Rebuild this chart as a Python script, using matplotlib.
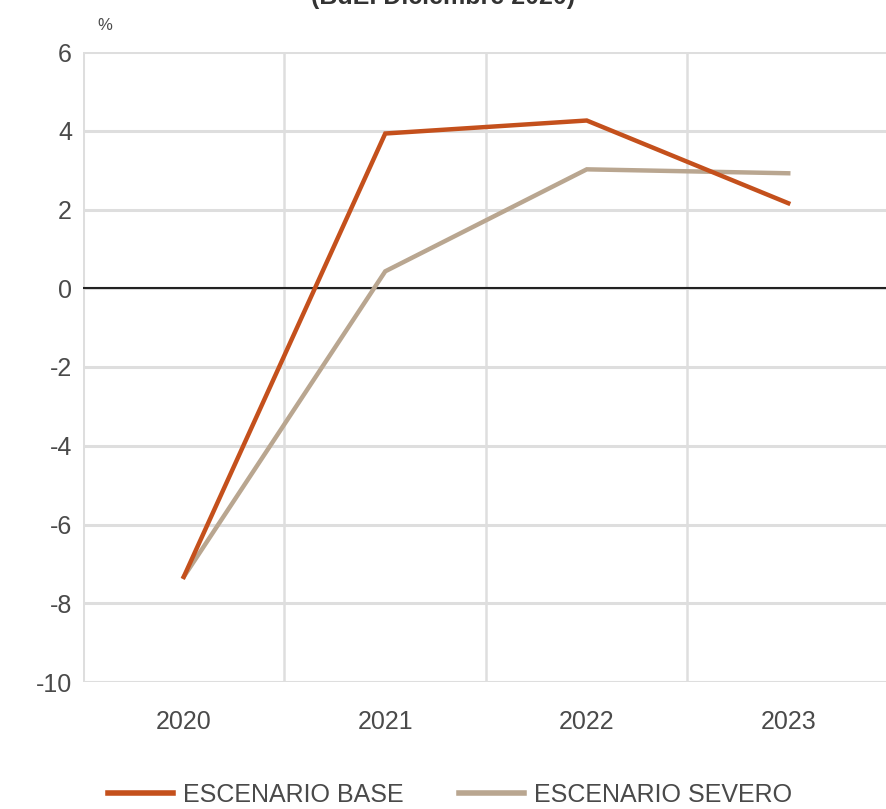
import matplotlib.pyplot as plt
from matplotlib.lines import Line2D

plt.rcParams["font.family"] = ["Liberation Sans Narrow", "Liberation Sans", "DejaVu Sans"]

years = ["2020", "2021", "2022", "2023"]
base = [-7.33, 3.93, 4.26, 2.16]
severo = [-7.33, 0.43, 3.02, 2.92]
yticks = [6, 4, 2, 0, -2, -4, -6, -8, -10]

base_color = "#c4501c"
severo_color = "#b9a690"
grid_color = "#dedede"
text_color = "#4a4a4a"

fig = plt.figure(figsize=(8.87, 8.09), dpi=100)
ax = fig.add_axes([83 / 887, 1 - 682 / 809, 806 / 887, 630 / 809])

x = range(len(years))
ax.plot(x, base, color=base_color, lw=3.2, solid_joinstyle="miter", zorder=4)
ax.plot(x, severo, color=severo_color, lw=3.2, solid_joinstyle="miter", zorder=3)
ax.axhline(0, color="#222222", lw=1.5, zorder=2)

ax.set_xlim(-0.5, 3.5)
ax.set_ylim(-10, 6)
ax.set_yticks(yticks)
ax.set_yticklabels([str(v) for v in yticks])
ax.set_xticks(list(x))
ax.set_xticklabels(years)

# grid: vertical separators between years, horizontal at every tick
for xv in [0.5, 1.5, 2.5]:
    ax.axvline(xv, color=grid_color, lw=1.8, zorder=1)
ax.yaxis.grid(True, color=grid_color, lw=2.2, zorder=1)
ax.set_axisbelow(True)

for side in ["top", "right", "bottom", "left"]:
    ax.spines[side].set_visible(False)
ax.axvline(-0.5, color=grid_color, lw=2.2, zorder=1)
ax.axhline(-10, color=grid_color, lw=2.2, zorder=1)

ax.tick_params(axis="both", length=0, labelsize=18, labelcolor=text_color)
ax.tick_params(axis="y", pad=8)
ax.tick_params(axis="x", pad=20)

fig.text(97 / 887, 1 - 26 / 809, "%", fontsize=12, color=text_color, va="center")
# title is cut off by the top edge in the original image
fig.text(0.5, 1 - 4 / 809, "(BdE. Diciembre 2020)", fontsize=18, color="#333333",
         ha="center", va="baseline", fontweight="bold")

handles = [Line2D([], [], color=base_color, lw=4),
           Line2D([], [], color=severo_color, lw=4)]
fig.legend(handles, ["ESCENARIO BASE", "ESCENARIO SEVERO"], loc="center",
           bbox_to_anchor=(450 / 887, 1 - 795 / 809), ncol=2, frameon=False,
           fontsize=18, labelcolor=text_color, handlelength=2.6,
           handletextpad=0.4, columnspacing=2.2)

fig.savefig("out.png", dpi=100)
